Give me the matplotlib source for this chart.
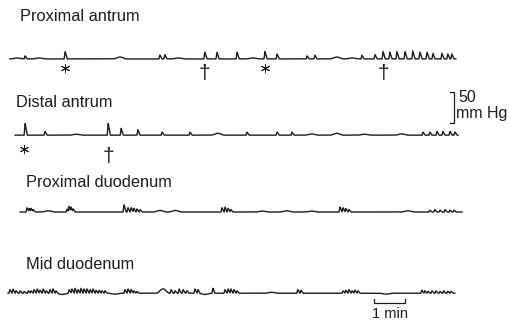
#Trazados manométricos: antro y duodeno
import numpy as np
import matplotlib
matplotlib.use("Agg")
import matplotlib.pyplot as plt

plt.rcParams['font.family'] = ['Liberation Sans', 'DejaVu Sans']

#Etiquetas de cada canal
labels = ["Proximal antrum", "Distal antrum", "Proximal duodenum", "Mid duodenum"]

#Inicio y fin de cada trazado (min)
t_start = [0.06, 0.23, 0.39, 0.0]
t_end = [14.45, 14.52, 14.65, 14.42]

#Ondas de presión: tiempo (min) y amplitud (mmHg)
pa_t = [0.55, 1.84, 4.90, 5.06, 6.35, 6.74, 7.39, 8.29, 8.68, 9.65, 9.90,
        11.42, 11.84, 12.10, 12.32, 12.55, 12.81, 13.06, 13.29, 13.52, 13.71, 14.00,
        14.19, 14.32]
pa_a = [5, 12, 6, 7, 11, 11, 11, 12, 8, 5, 6, 6, 7, 12, 11, 12, 12, 13, 11, 11,
        9, 9, 8, 8]

da_t = [0.55, 1.19, 3.23, 3.65, 4.19, 4.97, 5.87, 7.71, 8.68, 9.16,
        13.39, 13.61, 13.84, 14.03, 14.26, 14.42]
da_a = [19, 6, 19, 11, 9, 5, 5, 5, 5, 5, 5, 5, 6, 6, 6, 5]

pd_t = [0.61, 0.68, 0.74, 0.81, 1.90, 1.97, 2.03, 2.10, 3.74, 3.87, 3.97, 4.06, 4.16,
        4.26, 6.90, 7.00, 7.10, 7.19, 10.71, 10.81, 10.90, 11.00, 13.61,
        13.77, 13.94, 14.10, 14.26, 14.39]
pd_a = [7, 6, 6, 4, 5, 9, 8, 5, 12, 7, 7, 6, 5, 4, 7, 8, 6, 4, 8, 7, 6, 4, 3, 4,
        3, 4, 3, 3]

md_t = [0.06, 0.16, 0.26, 0.39, 0.52, 0.65, 0.74, 0.84, 0.94, 1.03, 1.13, 1.23, 1.35,
        1.45, 1.55, 1.97, 2.06, 2.16, 2.26, 2.35, 2.45, 2.55, 2.65, 2.74, 2.84, 2.94,
        3.03, 3.13, 3.77, 3.87, 3.97, 4.06, 4.16, 5.26, 5.39, 5.52, 5.65, 5.77,
        6.03, 6.13, 6.61, 7.00, 7.10, 7.19, 7.29, 7.39, 9.35, 9.45, 10.81, 10.90, 11.00,
        11.10, 11.19, 11.29, 13.35, 13.45, 13.55, 13.68, 13.81, 13.94, 14.06, 14.19,
        14.29]
md_a = [6, 7, 4, 4, 3, 4, 4, 6, 7, 5, 7, 4, 6, 7, 4, 6, 7, 8, 6, 8, 7, 7, 6, 7, 5, 5,
        4, 4, 6, 7, 6, 4, 3, 6, 4, 7, 6, 4, 7, 6, 8, 6, 7, 7, 6, 4, 6, 5, 4, 5, 6, 4,
        5, 4, 5, 4, 3, 4, 4, 3, 4, 3, 3]

#Ondas lentas y redondeadas: tiempo (min) y amplitud (mmHg)
pa_bt = [0.3, 1.0, 3.61, 5.5, 7.9, 10.61, 11.1]
pa_ba = [1.5, 1.5, 3, 1.5, 1.5, 3, 1.5]
da_bt = [2.2, 6.77, 9.8, 10.61, 11.5, 12.7]
da_ba = [1.5, 3, 2, 3, 1.5, 2]
pd_bt = [1.3, 4.9, 5.39, 8.2, 9.0, 9.8, 12.9]
pd_ba = [2, 2.5, 2.5, 1.5, 2, 1.5, 2]
md_bt = [1.75, 5.0, 3.45, 6.35, 8.5, 12.2]
md_ba = [-2, 7, -1.5, -2, 1.5, -1.5]

#Marcas (* y †)
star_t = [[1.84, 8.29], [0.52]]
dag_t = [[6.35, 12.10], [3.23]]

#Disposición (mmHg hacia abajo)
offsets = [-95, -218, -342, -473]
label_y = [-27, -166, -295, -426]
label_x = [0.39, 0.26, 0.58, 0.58]
ink = "#1c1c1c"


def trace(t0, t1, ts, amps, bts, bas):
    t = np.linspace(t0, t1, 4000)
    y = np.zeros_like(t)
    for bk, ak in zip(bts, bas):
        d = np.clip(np.abs(t - bk) / 0.22, 0, 1)
        y = y + ak * 0.5 * (1 + np.cos(np.pi * d))
    s = np.zeros_like(t)
    for tk, ak in zip(ts, amps):
        up = np.clip(1 - (tk - t) / 0.03, 0, 1) * (t <= tk)
        down = np.clip(1 - (t - tk) / 0.07, 0, 1) * (t > tk)
        s = np.maximum(s, ak * (up + down))
    return t, y + s


fig = plt.figure(figsize=(5.11, 3.22), dpi=100)
ax = fig.add_axes([0, 0, 1, 1])
ax.set_xlim(-0.26, 16.23)
ax.set_ylim(-519.4, 0)
ax.axis("off")

series = [(pa_t, pa_a, pa_bt, pa_ba), (da_t, da_a, da_bt, da_ba),
          (pd_t, pd_a, pd_bt, pd_ba), (md_t, md_a, md_bt, md_ba)]
for i, (ts, amps, bts, bas) in enumerate(series):
    t, y = trace(t_start[i], t_end[i], ts, amps, bts, bas)
    ax.plot(t, y + offsets[i], color=ink, lw=1.0)
    ax.text(label_x[i], label_y[i], labels[i], fontsize=11.8, va="center", ha="left",
            color=ink)

for i in range(2):
    for s in star_t[i]:
        ax.plot(s, offsets[i] - 15 - 8 * i, marker=(6, 2, 0), ms=6.5, color=ink, mew=0.7)
    for d in dag_t[i]:
        ax.text(d, offsets[i] - 23 - 12 * i, "†", fontsize=15, ha="center", va="center",
                color=ink)

#Barra de 50 mmHg
ax.plot([14.26, 14.39, 14.39, 14.26], [-148, -148, -198, -198], color=ink, lw=0.9)
ax.text(14.52, -158, "50", fontsize=11.5, ha="left", va="center", color=ink)
ax.text(14.47, -183, "mm Hg", fontsize=11.5, ha="left", va="center", color=ink)

#Barra de 1 min
ax.plot([11.81, 11.81, 12.81, 12.81], [-483, -489, -489, -483], color=ink, lw=0.9)
ax.text(12.31, -507, "1 min", fontsize=10.5, ha="center", va="center", color=ink)

fig.savefig("out.png", dpi=100, facecolor="white")
